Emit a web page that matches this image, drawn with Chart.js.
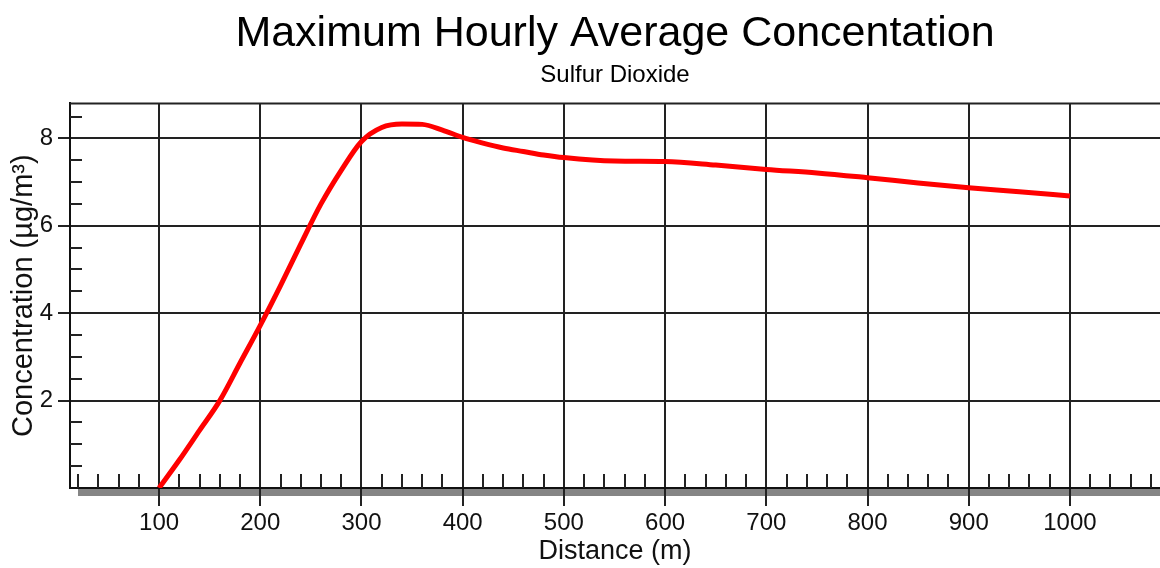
<!DOCTYPE html>
<html>
<head>
<meta charset="utf-8">
<title>Maximum Hourly Average Concentation</title>
<script src="https://cdn.jsdelivr.net/npm/chart.js@4"></script>
<style>
  html, body { margin: 0; padding: 0; background: #fff; }
</style>
</head>
<body>
<canvas id="concChart" width="1160" height="568"></canvas>
<script>
/* Maximum hourly average concentration vs. distance (sulfur dioxide) */

// Data
const distances = [100, 120, 140, 160, 180, 200, 220, 240, 260, 280, 300,
  320, 340, 360, 380, 400, 420, 440, 460, 480, 500,
  550, 600, 650, 700, 750, 800, 850, 900, 950, 1000];
const concentrations = [0.0, 0.64, 1.32, 2.0, 2.86, 3.72, 4.63, 5.58, 6.5, 7.27, 7.93,
  8.25, 8.33, 8.32, 8.19, 8.02, 7.89, 7.78, 7.70, 7.62, 7.56,
  7.48, 7.47, 7.39, 7.29, 7.21, 7.10, 6.98, 6.87, 6.78, 6.68];

// Axis tick labels
const xTickLabels = [100, 200, 300, 400, 500, 600, 700, 800, 900, 1000];
const yTickLabels = [2, 4, 6, 8];

const FONT = "'Liberation Sans', Arial, sans-serif";
const INK = '#111';
const GRID = '#222';

// Shadow under the x axis, minor ticks and the top frame line
const axisDecor = {
  id: 'axisDecor',
  beforeDraw(chart) {
    const { ctx, chartArea: a } = chart;
    ctx.save();
    ctx.fillStyle = '#858585';
    ctx.fillRect(a.left + 8, a.bottom + 1, a.right - a.left - 8, 7);
    ctx.restore();
  },
  beforeDatasetsDraw(chart) {
    const { ctx, chartArea: a, scales } = chart;
    const x = scales.x, y = scales.y;
    ctx.save();
    ctx.strokeStyle = GRID;
    ctx.lineWidth = 2;
    ctx.beginPath();
    for (let v = 20; v < x.max; v += 20) {
      if (v % 100 === 0 || v < x.min) continue;
      const px = Math.round(x.getPixelForValue(v));
      ctx.moveTo(px, a.bottom);
      ctx.lineTo(px, a.bottom - 14);
    }
    for (let v = 0.5; v < y.max; v += 0.5) {
      if (v % 2 === 0) continue;
      const py = Math.round(y.getPixelForValue(v));
      ctx.moveTo(a.left, py);
      ctx.lineTo(a.left + 12, py);
    }
    // top frame
    ctx.moveTo(a.left, a.top);
    ctx.lineTo(a.right, a.top);
    ctx.stroke();
    ctx.restore();
  }
};

const config = {
  type: 'line',
  data: {
    datasets: [{
      label: 'Sulfur Dioxide',
      data: distances.map((d, i) => ({ x: d, y: concentrations[i] })),
      borderColor: '#ff0000',
      borderWidth: 5,
      pointRadius: 0,
      fill: false,
      cubicInterpolationMode: 'monotone'
    }]
  },
  options: {
    responsive: false,
    animation: false,
    layout: { padding: 0 },
    plugins: {
      legend: { display: false },
      tooltip: { enabled: false },
      title: {
        display: true,
        text: 'Maximum Hourly Average Concentation',
        fullSize: false,
        color: '#000',
        font: { family: FONT, size: 43, weight: 'normal' },
        padding: { top: 8, bottom: 0 }
      },
      subtitle: {
        display: true,
        text: 'Sulfur Dioxide',
        fullSize: false,
        color: '#000',
        font: { family: FONT, size: 24, weight: 'normal' },
        padding: { top: 1, bottom: 14 }
      }
    },
    scales: {
      x: {
        type: 'linear',
        min: 12,
        max: 1089,
        afterBuildTicks: scale => { scale.ticks = xTickLabels.map(v => ({ value: v })); },
        afterFit: scale => { scale.height = 80; },
        ticks: {
          color: INK,
          font: { family: FONT, size: 24 },
          padding: 3,
          maxRotation: 0,
          autoSkip: false,
          callback: value => String(value)
        },
        grid: { color: GRID, lineWidth: 2, tickLength: 18, tickColor: GRID },
        border: { display: true, color: INK, width: 2 },
        title: {
          display: true,
          text: 'Distance (m)',
          color: INK,
          font: { family: FONT, size: 27 },
          padding: 0
        }
      },
      y: {
        min: 0,
        max: 8.8,
        afterBuildTicks: scale => { scale.ticks = yTickLabels.map(v => ({ value: v })); },
        afterFit: scale => { scale.width = 70; },
        ticks: {
          color: INK,
          font: { family: FONT, size: 24 },
          padding: 5
        },
        grid: { color: GRID, lineWidth: 2, tickLength: 12, tickColor: GRID },
        border: { display: true, color: INK, width: 2 },
        title: {
          display: true,
          text: 'Concentration (µg/m³)',
          color: INK,
          font: { family: FONT, size: 29 },
          padding: { top: 7, bottom: 0 }
        }
      }
    }
  },
  plugins: [axisDecor]
};

new Chart(document.getElementById('concChart'), config);
</script>
</body>
</html>
